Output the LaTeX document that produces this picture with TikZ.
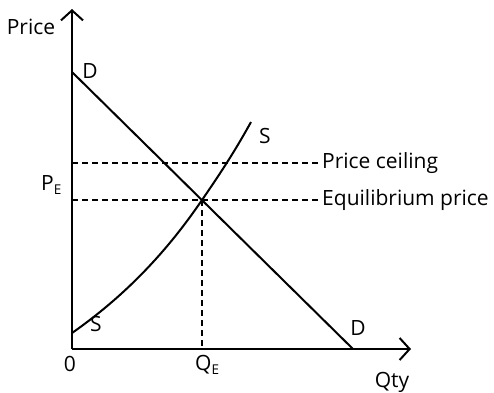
\documentclass[tikz,border=0pt]{standalone}
\usepackage{fontspec}
\setmainfont{Open Sans}
\usetikzlibrary{arrows.meta}
\newcommand{\subE}{\raisebox{-3.3pt}{\fontsize{13.5}{14}\selectfont E}}
\begin{document}
\begin{tikzpicture}[x=1pt,y=-1pt,
  axis/.style={line width=2pt,-{Straight Barb[length=10pt,width=22pt,line width=2pt]}},
  curve/.style={line width=2pt},
  guide/.style={line width=2.8pt,dash pattern=on 6pt off 4pt},
  lbl/.style={font=\fontsize{21}{23}\selectfont,inner sep=0pt}]
\useasboundingbox (0,0) rectangle (494,392);
\coordinate (O) at (72,349);
\coordinate (ytop) at (72,9);
\coordinate (xend) at (411,349);
\coordinate (D0) at (72,72);
\coordinate (D1) at (353,349);
\coordinate (S0) at (72,333);
\coordinate (E) at (202,200);
\coordinate (S1) at (251,122);
\coordinate (PE) at (72,200);
\coordinate (PC) at (72,163);
\coordinate (QE) at (202,349);
\coordinate (PCend) at (318,163);
\coordinate (PEend) at (318,200);
\draw[axis] (O) -- (ytop);
\draw[axis] (O) -- (xend);
\draw[curve] (D0) -- (D1);
\draw[curve] (S0) .. controls (132,291) and (172,244) .. (E) .. controls (224,168) and (236,149) .. (S1);
\draw[guide] (PC) -- (PCend);
\draw[guide] (PE) -- (PEend);
\draw[guide] (E) -- (QE);
\node[lbl,anchor=west] (pc) at (322,163) {Price ceiling};
\node[lbl,anchor=west] (ep) at (322,200) {Equilibrium price};
\node[lbl] (price) at (31,27) {Price};
\node[lbl] (qty) at (392,382) {Qty};
\node[lbl] (zero) at (70,364) {0};
\node[lbl,anchor=west] (qe) at (195,365) {Q\subE};
\node[lbl,anchor=west] (pe) at (41,185) {P\subE};
\node[lbl] (dtop) at (90,71) {D};
\node[lbl] (dbot) at (358,328) {D};
\node[lbl] (sbot) at (96,324) {S};
\node[lbl] (stop) at (265,136) {S};
\end{tikzpicture}
\end{document}
